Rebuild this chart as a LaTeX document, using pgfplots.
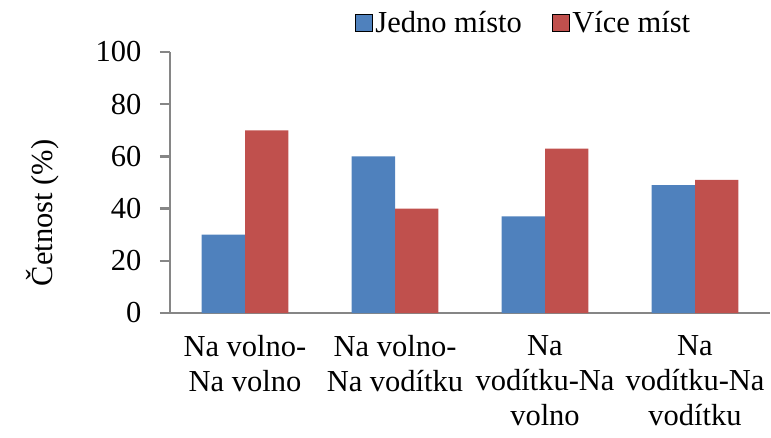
\documentclass[border=0pt]{standalone}
\usepackage{fontspec}
\setmainfont{Liberation Serif}
\usepackage{pgfplots}
\pgfplotsset{compat=1.18}
\definecolor{cblue}{HTML}{4F81BD}
\definecolor{cred}{HTML}{C0504D}
\definecolor{axgray}{HTML}{868686}
\begin{document}
\begin{tikzpicture}[font=\fontsize{30.5bp}{35bp}\selectfont]
\useasboundingbox (0,0) rectangle (771bp,438bp);
\clip (0,0) rectangle (771bp,438bp);
\begin{axis}[
  at={(170bp,125bp)}, anchor=south west,
  scale only axis, width=600bp, height=261bp,
  xmin=-0.5, xmax=3.5, ymin=0, ymax=100,
  ytick={0,20,40,60,80,100},
  xtick={0,1,2,3},
  xticklabels={{Na volno-\\Na volno},{Na volno-\\Na vodítku},{Na\\vodítku-Na\\volno},{Na\\vodítku-Na\\vodítku}},
  xticklabel style={align=center, anchor=north, yshift=-12bp, inner ysep=0pt},
  yticklabel style={anchor=east, xshift=-15bp},
  /pgf/number format/assume math mode=true,
  ybar=0pt, bar width=43.3bp,
  axis lines*=left,
  axis line style={axgray, line width=2.5bp},
  tick align=outside, major tick length=10bp,
  ytick style={axgray, line width=2.5bp},
  xtick style={draw=none},
  ylabel={Četnost (\%)},
  ylabel style={at={(axis description cs:-0.213,0.383)}, anchor=center},
  legend style={draw=none, fill=none, at={(axis description cs:0.308,1.06)}, anchor=south west, legend columns=2, inner sep=0pt, nodes={inner xsep=3bp}, /tikz/every even column/.append style={column sep=27bp}},
  legend image code/.code={\draw[#1] (0bp,-8bp) rectangle (17bp,9bp);},
  clip=false,
]
\addplot[fill=cblue, draw=none] coordinates {(0,30) (1,60) (2,37) (3,49)};
\addplot[fill=cred, draw=none] coordinates {(0,70) (1,40) (2,63) (3,51)};
\legend{Jedno místo, Více míst}
\end{axis}
\end{tikzpicture}
\end{document}
